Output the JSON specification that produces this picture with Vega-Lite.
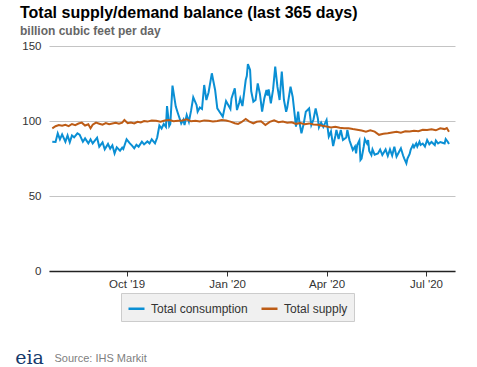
{
 "$schema": "https://vega.github.io/schema/vega-lite/v6.json",
 "width": 406, "height": 225,
 "autosize": {"type": "none"},
 "padding": {"left": 49, "top": 46, "right": 22, "bottom": 96},
 "background": "white",
 "title": {"text": "Total supply/demand balance (last 365 days)", "subtitle": "billion cubic feet per day", "anchor": "start", "frame": "group", "dx": -29, "offset": 3, "fontSize": 16, "fontWeight": "bold", "font": "Liberation Sans", "color": "#000000", "subtitleFont": "Liberation Sans", "subtitleFontSize": 12, "subtitleFontWeight": "bold", "subtitleColor": "#666666", "subtitlePadding": 5},
 "datasets": {
  "consumption": [
   {"date":"2019-07-25","value":86.2},{"date":"2019-07-28","value":86},{"date":"2019-07-30","value":91.8},{"date":"2019-08-01","value":87.8},{"date":"2019-08-03","value":91.1},{"date":"2019-08-06","value":86.2},{"date":"2019-08-08","value":90.4},{"date":"2019-08-10","value":85.8},{"date":"2019-08-12","value":90.4},{"date":"2019-08-14","value":89.1},{"date":"2019-08-17","value":91.8},{"date":"2019-08-19","value":90.9},{"date":"2019-08-22","value":86.2},{"date":"2019-08-24","value":88.4},{"date":"2019-08-27","value":85.1},{"date":"2019-08-29","value":87.8},{"date":"2019-08-31","value":85.1},{"date":"2019-09-04","value":88.9},{"date":"2019-09-06","value":82.9},{"date":"2019-09-09","value":85.8},{"date":"2019-09-11","value":81.1},{"date":"2019-09-14","value":84.7},{"date":"2019-09-16","value":81.6},{"date":"2019-09-18","value":83.8},{"date":"2019-09-20","value":78.4},{"date":"2019-09-22","value":82.4},{"date":"2019-09-25","value":80.2},{"date":"2019-09-27","value":82.2},{"date":"2019-09-28","value":81.3},{"date":"2019-10-01","value":87.8},{"date":"2019-10-04","value":85.1},{"date":"2019-10-06","value":83.6},{"date":"2019-10-08","value":81.8},{"date":"2019-10-10","value":84.2},{"date":"2019-10-12","value":82.9},{"date":"2019-10-15","value":86.2},{"date":"2019-10-17","value":84.4},{"date":"2019-10-20","value":86.4},{"date":"2019-10-22","value":85.1},{"date":"2019-10-24","value":87.8},{"date":"2019-10-27","value":85.1},{"date":"2019-10-29","value":89},{"date":"2019-10-31","value":97},{"date":"2019-11-02","value":95},{"date":"2019-11-04","value":98},{"date":"2019-11-06","value":96},{"date":"2019-11-07","value":110},{"date":"2019-11-09","value":96.7},{"date":"2019-11-10","value":98},{"date":"2019-11-12","value":123.6},{"date":"2019-11-15","value":109.6},{"date":"2019-11-17","value":105},{"date":"2019-11-19","value":100.7},{"date":"2019-11-20","value":98.4},{"date":"2019-11-22","value":101},{"date":"2019-11-23","value":97.3},{"date":"2019-11-25","value":104},{"date":"2019-11-27","value":99.5},{"date":"2019-11-29","value":106.9},{"date":"2019-12-01","value":115.8},{"date":"2019-12-04","value":110.7},{"date":"2019-12-05","value":106.2},{"date":"2019-12-07","value":109},{"date":"2019-12-09","value":108},{"date":"2019-12-11","value":124},{"date":"2019-12-13","value":114},{"date":"2019-12-15","value":119},{"date":"2019-12-18","value":131.8},{"date":"2019-12-19","value":128},{"date":"2019-12-21","value":120.7},{"date":"2019-12-23","value":108.4},{"date":"2019-12-25","value":106.2},{"date":"2019-12-28","value":102.9},{"date":"2019-12-31","value":113.3},{"date":"2020-01-02","value":110.7},{"date":"2020-01-04","value":108},{"date":"2020-01-05","value":115.1},{"date":"2020-01-08","value":121.8},{"date":"2020-01-10","value":107.3},{"date":"2020-01-12","value":112},{"date":"2020-01-13","value":115.1},{"date":"2020-01-15","value":110},{"date":"2020-01-18","value":127.3},{"date":"2020-01-19","value":130},{"date":"2020-01-20","value":138},{"date":"2020-01-22","value":134},{"date":"2020-01-23","value":120},{"date":"2020-01-25","value":112.9},{"date":"2020-01-27","value":114},{"date":"2020-01-29","value":125.1},{"date":"2020-01-31","value":118},{"date":"2020-02-02","value":106.2},{"date":"2020-02-04","value":115},{"date":"2020-02-06","value":120.7},{"date":"2020-02-07","value":117},{"date":"2020-02-08","value":121},{"date":"2020-02-10","value":111.8},{"date":"2020-02-12","value":120.7},{"date":"2020-02-14","value":136.2},{"date":"2020-02-16","value":122.9},{"date":"2020-02-18","value":114},{"date":"2020-02-20","value":132.9},{"date":"2020-02-22","value":114},{"date":"2020-02-24","value":106.2},{"date":"2020-02-25","value":109},{"date":"2020-02-28","value":122.9},{"date":"2020-03-01","value":116},{"date":"2020-03-03","value":102.9},{"date":"2020-03-04","value":96.2},{"date":"2020-03-06","value":106.2},{"date":"2020-03-07","value":100},{"date":"2020-03-09","value":91.8},{"date":"2020-03-11","value":98},{"date":"2020-03-13","value":106.2},{"date":"2020-03-16","value":108.4},{"date":"2020-03-18","value":97.3},{"date":"2020-03-20","value":101},{"date":"2020-03-22","value":108.4},{"date":"2020-03-24","value":101.8},{"date":"2020-03-25","value":95.8},{"date":"2020-03-27","value":99},{"date":"2020-03-29","value":96},{"date":"2020-04-01","value":100.7},{"date":"2020-04-03","value":89.6},{"date":"2020-04-05","value":93},{"date":"2020-04-07","value":83.3},{"date":"2020-04-09","value":90},{"date":"2020-04-10","value":94},{"date":"2020-04-12","value":88},{"date":"2020-04-14","value":94},{"date":"2020-04-16","value":87.3},{"date":"2020-04-19","value":89},{"date":"2020-04-20","value":94},{"date":"2020-04-22","value":87},{"date":"2020-04-25","value":80.7},{"date":"2020-04-27","value":83},{"date":"2020-04-28","value":78.4},{"date":"2020-04-29","value":84},{"date":"2020-05-01","value":87},{"date":"2020-05-02","value":74},{"date":"2020-05-03","value":75},{"date":"2020-05-05","value":83},{"date":"2020-05-06","value":87.8},{"date":"2020-05-08","value":85},{"date":"2020-05-09","value":87.3},{"date":"2020-05-10","value":80},{"date":"2020-05-12","value":77.3},{"date":"2020-05-13","value":81},{"date":"2020-05-15","value":77.5},{"date":"2020-05-18","value":78.4},{"date":"2020-05-20","value":81},{"date":"2020-05-22","value":77.3},{"date":"2020-05-25","value":81},{"date":"2020-05-27","value":76.7},{"date":"2020-05-29","value":81.1},{"date":"2020-05-31","value":77},{"date":"2020-06-02","value":82.9},{"date":"2020-06-04","value":76.2},{"date":"2020-06-06","value":79},{"date":"2020-06-08","value":81.8},{"date":"2020-06-10","value":77},{"date":"2020-06-11","value":75.1},{"date":"2020-06-13","value":71.8},{"date":"2020-06-14","value":75},{"date":"2020-06-16","value":78},{"date":"2020-06-17","value":81},{"date":"2020-06-19","value":84},{"date":"2020-06-20","value":82.5},{"date":"2020-06-22","value":85.1},{"date":"2020-06-23","value":83},{"date":"2020-06-25","value":86.2},{"date":"2020-06-26","value":84},{"date":"2020-06-28","value":85},{"date":"2020-06-30","value":83},{"date":"2020-07-02","value":87.3},{"date":"2020-07-04","value":84.5},{"date":"2020-07-06","value":86},{"date":"2020-07-09","value":84},{"date":"2020-07-10","value":87},{"date":"2020-07-12","value":85},{"date":"2020-07-14","value":86},{"date":"2020-07-16","value":85.5},{"date":"2020-07-18","value":85},{"date":"2020-07-19","value":88},{"date":"2020-07-21","value":86},{"date":"2020-07-22","value":84.7}
  ],
  "supply": [
   {"date":"2019-07-25","value":95.1},{"date":"2019-07-28","value":96.5},{"date":"2019-07-31","value":97.3},{"date":"2019-08-03","value":96.8},{"date":"2019-08-06","value":97.5},{"date":"2019-08-09","value":96.6},{"date":"2019-08-12","value":98},{"date":"2019-08-15","value":97.2},{"date":"2019-08-18","value":98.3},{"date":"2019-08-21","value":98.9},{"date":"2019-08-24","value":97},{"date":"2019-08-27","value":97.8},{"date":"2019-08-29","value":95.1},{"date":"2019-08-31","value":97.5},{"date":"2019-09-03","value":98.9},{"date":"2019-09-06","value":98.2},{"date":"2019-09-09","value":97.5},{"date":"2019-09-12","value":98.6},{"date":"2019-09-15","value":97.8},{"date":"2019-09-18","value":98.3},{"date":"2019-09-21","value":98.8},{"date":"2019-09-24","value":98.2},{"date":"2019-09-27","value":98.9},{"date":"2019-09-29","value":100.7},{"date":"2019-10-02","value":98.5},{"date":"2019-10-05","value":99},{"date":"2019-10-08","value":98.4},{"date":"2019-10-11","value":99.5},{"date":"2019-10-14","value":99},{"date":"2019-10-17","value":100},{"date":"2019-10-20","value":99.6},{"date":"2019-10-24","value":100.3},{"date":"2019-10-28","value":100.2},{"date":"2019-11-01","value":99.5},{"date":"2019-11-05","value":100.3},{"date":"2019-11-09","value":100.7},{"date":"2019-11-13","value":99.8},{"date":"2019-11-17","value":100.2},{"date":"2019-11-21","value":100.4},{"date":"2019-11-25","value":101.1},{"date":"2019-11-29","value":99.8},{"date":"2019-12-03","value":100.2},{"date":"2019-12-07","value":99.7},{"date":"2019-12-11","value":100.4},{"date":"2019-12-15","value":100.1},{"date":"2019-12-19","value":99.7},{"date":"2019-12-23","value":100},{"date":"2019-12-27","value":100.6},{"date":"2019-12-31","value":100.3},{"date":"2020-01-04","value":99.6},{"date":"2020-01-08","value":98.5},{"date":"2020-01-11","value":98},{"date":"2020-01-14","value":99.2},{"date":"2020-01-18","value":101.3},{"date":"2020-01-21","value":99.8},{"date":"2020-01-25","value":98.4},{"date":"2020-01-28","value":99.5},{"date":"2020-02-01","value":99.8},{"date":"2020-02-05","value":97.3},{"date":"2020-02-09","value":99.4},{"date":"2020-02-13","value":100.5},{"date":"2020-02-17","value":99.2},{"date":"2020-02-21","value":99.6},{"date":"2020-02-25","value":98.9},{"date":"2020-02-29","value":99.1},{"date":"2020-03-04","value":98.1},{"date":"2020-03-08","value":98.6},{"date":"2020-03-12","value":97.9},{"date":"2020-03-16","value":98.4},{"date":"2020-03-20","value":97.7},{"date":"2020-03-24","value":97.5},{"date":"2020-03-28","value":96.8},{"date":"2020-04-01","value":96.3},{"date":"2020-04-05","value":95.7},{"date":"2020-04-09","value":96.2},{"date":"2020-04-13","value":95.5},{"date":"2020-04-17","value":95.2},{"date":"2020-04-21","value":95.1},{"date":"2020-04-25","value":94.6},{"date":"2020-04-29","value":94.2},{"date":"2020-05-03","value":93.6},{"date":"2020-05-07","value":92.9},{"date":"2020-05-11","value":93.8},{"date":"2020-05-15","value":92.9},{"date":"2020-05-19","value":90.8},{"date":"2020-05-23","value":91.5},{"date":"2020-05-27","value":91.8},{"date":"2020-05-31","value":92.4},{"date":"2020-06-04","value":92.8},{"date":"2020-06-08","value":92.2},{"date":"2020-06-12","value":93.1},{"date":"2020-06-16","value":93},{"date":"2020-06-20","value":93.5},{"date":"2020-06-24","value":93.2},{"date":"2020-06-28","value":94.2},{"date":"2020-07-02","value":94},{"date":"2020-07-06","value":94.5},{"date":"2020-07-10","value":93.8},{"date":"2020-07-14","value":95.1},{"date":"2020-07-18","value":94.6},{"date":"2020-07-20","value":95.3},{"date":"2020-07-22","value":92.9}
  ]
 },
 "layer": [
  {
   "data": {"name": "consumption"},
   "transform": [{"calculate": "'Total consumption'", "as": "series"}],
   "mark": {"type": "line", "strokeWidth": 2},
   "encoding": {}
  },
  {
   "data": {"name": "supply"},
   "transform": [{"calculate": "'Total supply'", "as": "series"}],
   "mark": {"type": "line", "strokeWidth": 2},
   "encoding": {}
  }
 ],
 "encoding": {
  "x": {"field": "date", "type": "temporal",
   "scale": {"type": "utc", "domain": [{"year": 2019, "month": 7, "date": 22, "utc": true}, {"year": 2020, "month": 7, "date": 27, "hours": 12, "utc": true}]},
   "axis": {"title": "Source: IHS Markit", "titleX": 5, "titleY": 90, "titleAlign": "left", "titleAnchor": "start", "titleBaseline": "alphabetic", "titleFont": "Liberation Sans", "titleFontSize": 11, "titleFontWeight": "normal", "titleColor": "#808080",
    "values": [{"year": 2019, "month": 10, "date": 1, "utc": true}, {"year": 2020, "month": 1, "date": 1, "utc": true}, {"year": 2020, "month": 4, "date": 1, "utc": true}, {"year": 2020, "month": 7, "date": 1, "utc": true}],
    "labelExpr": "utcFormat(datum.value, \"%b '%y\")", "labelFont": "Liberation Sans", "labelFontSize": 11.5, "labelColor": "#333333", "labelPadding": 2, "tickSize": 5, "tickColor": "#333333", "domainColor": "#222222", "domainWidth": 1.5, "grid": false, "labelFlush": false}},
  "y": {"field": "value", "type": "quantitative",
   "scale": {"domain": [0, 150]},
   "axis": {"title": "eia", "titleX": -20, "titleY": 317, "titleAngle": 0, "titleAlign": "center", "titleBaseline": "alphabetic", "titleFont": "DejaVu Serif", "titleFontSize": 19, "titleFontWeight": "normal", "titleColor": "#163a6b",
    "values": [0, 50, 100, 150], "domain": false, "ticks": false, "labelPadding": 8, "labelFont": "Liberation Sans", "labelFontSize": 11.5, "labelColor": "#333333", "gridColor": "#c4c4c4", "gridWidth": 1}},
  "color": {"field": "series", "type": "nominal",
   "scale": {"domain": ["Total consumption", "Total supply"], "range": ["#0a8fd4", "#bd5c16"]},
   "legend": {"orient": "none", "legendX": 72, "legendY": 247, "direction": "horizontal", "columns": 2, "title": null, "symbolType": "stroke", "symbolSize": 256, "symbolStrokeWidth": 2.5, "labelFont": "Liberation Sans", "labelFontSize": 12, "labelColor": "#333333", "labelOffset": 5, "columnPadding": 8, "padding": 6, "fillColor": "#f0f0f0", "strokeColor": "#cccccc", "labelLimit": 200}}
 },
 "config": {"view": {"stroke": null}, "font": "Liberation Sans"}
}
